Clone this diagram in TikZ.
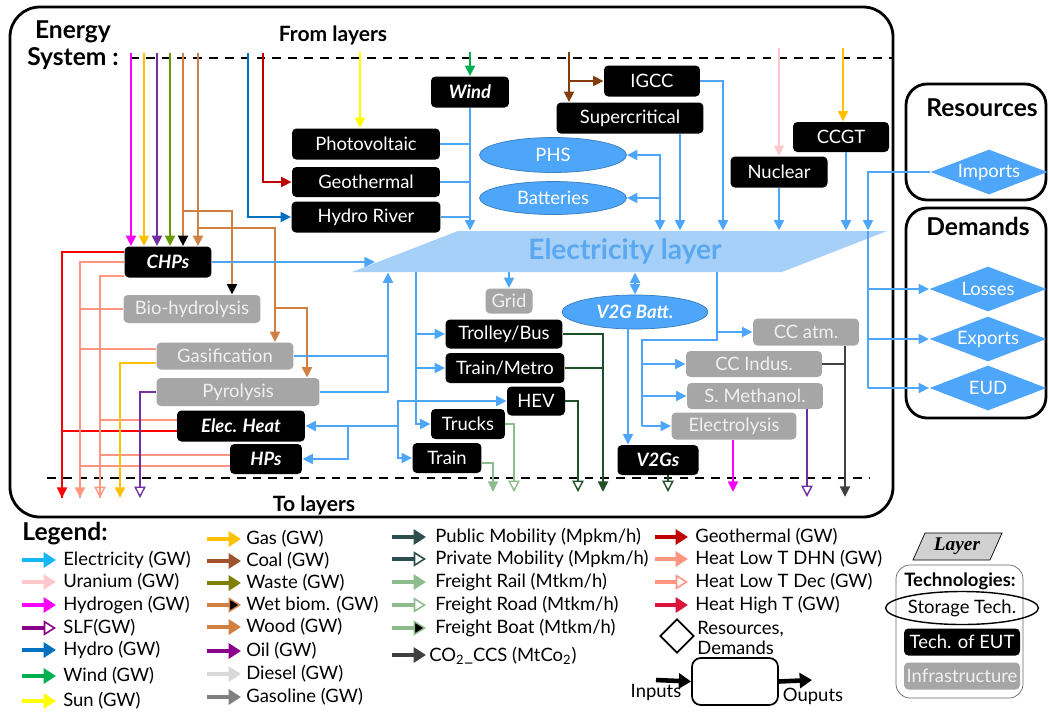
\documentclass[tikz,border=0pt]{standalone}
\usepackage{fontspec}
\setmainfont{Lato}
\newfontfamily\layerfont{Liberation Serif}
\usetikzlibrary{arrows.meta,shapes.geometric,calc}

\definecolor{elecblue}{RGB}{77,166,250}
\definecolor{layerblue}{RGB}{166,208,248}
\definecolor{layertext}{RGB}{90,168,240}
\definecolor{infragray}{RGB}{166,166,166}
\definecolor{legcyan}{RGB}{20,184,245}
\definecolor{uranium}{RGB}{255,200,205}
\definecolor{hydrogen}{RGB}{255,0,255}
\definecolor{slf}{RGB}{112,48,160}
\definecolor{hydro}{RGB}{0,112,192}
\definecolor{windg}{RGB}{0,176,80}
\definecolor{sun}{RGB}{255,255,0}
\definecolor{gas}{RGB}{255,192,0}
\definecolor{coal}{RGB}{132,60,12}
\definecolor{legcoal}{RGB}{160,82,45}
\definecolor{waste}{RGB}{128,128,0}
\definecolor{wastedia}{RGB}{105,155,0}
\definecolor{wood}{RGB}{209,128,66}
\definecolor{oil}{RGB}{139,0,139}
\definecolor{diesel}{RGB}{217,217,217}
\definecolor{gasoline}{RGB}{128,128,128}
\definecolor{pubmob}{RGB}{30,81,40}
\definecolor{legmob}{RGB}{47,79,79}
\definecolor{freight}{RGB}{143,188,143}
\definecolor{co2}{RGB}{64,64,64}
\definecolor{geoth}{RGB}{192,0,0}
\definecolor{heatlow}{RGB}{255,150,130}
\definecolor{heathigh}{RGB}{255,0,0}
\definecolor{legheathigh}{RGB}{220,20,60}

\newcommand\boxfont{\fontsize{10.5}{12}\selectfont}

\tikzset{
  eut/.style={fill=black, text=white, rounded corners=2.5pt, inner sep=0pt, font=\boxfont},
  eutb/.style={eut, font=\boxfont\bfseries\itshape},
  infra/.style={fill=infragray, text=white!94!black, rounded corners=2.5pt, inner sep=0pt, font=\boxfont},
  stor/.style={ellipse, fill=elecblue, draw=elecblue!75!black, thin, text=white, inner sep=0pt, font=\boxfont},
  resdem/.style={diamond, fill=elecblue, text=white, inner sep=0pt, shape aspect=2.6,
    minimum width=2.34cm, minimum height=0.9cm, font=\boxfont},
  flow/.style={line width=1.6pt, -{Triangle[length=6pt,width=5.5pt]}},
  hflow/.style={line width=1.6pt, -{Triangle[open,line width=0.8pt,length=6.5pt,width=6.5pt]}},
  wetflow/.style={line width=1.6pt, wood, -{Triangle[length=6pt,width=5.5pt,color=black]}},
  pline/.style={line width=1.6pt},
  eflow/.style={flow, elecblue},
  eline/.style={pline, elecblue},
  twoway/.style={{Triangle[length=6pt,width=5.5pt]}-{Triangle[length=6pt,width=5.5pt]}},
  legf/.style={line width=2.6pt, -{Triangle[length=7pt,width=8.5pt]}},
  lego/.style={line width=2.6pt, -{Triangle[open,line width=0.9pt,length=7pt,width=8.5pt]}},
  legk/.style={line width=2.6pt, -{Triangle[line width=0.8pt,length=7pt,width=8.5pt,fill=black]}},
  legtext/.style={anchor=west, inner sep=0pt, font=\boxfont},
  head/.style={font=\fontsize{14}{15.5}\selectfont\bfseries, inner sep=0pt}
}

\begin{document}
\begin{tikzpicture}[x=0.02cm, y=-0.02cm]
\useasboundingbox (0,0) rectangle (1048,711);

% frames
\draw[line width=1.6pt, rounded corners=17pt] (10,7) rectangle (893,517);
\draw[line width=1.6pt, rounded corners=12pt] (906,84) rectangle (1046,200);
\draw[line width=1.6pt, rounded corners=12pt] (906,208) rectangle (1046,418);
\draw[line width=0.8pt, dash pattern=on 5pt off 4pt] (130,58) -- (893,58);
\draw[line width=0.8pt, dash pattern=on 5pt off 4pt] (47,478) -- (870,478);

\node[head, align=center] (title) at (73,45) {Energy\\System :};
\node[head, font=\fontsize{12}{14}\selectfont\bfseries] (fromlay) at (333,35) {From layers};
\node[head, font=\fontsize{12}{14}\selectfont\bfseries] (tolay) at (314,505) {To layers};
\node[head] (reslab) at (982,108) {Resources};
\node[head] (demlab) at (978,226) {Demands};

% electricity layer
\fill[layerblue] (458,231) -- (887,231) -- (782,272) -- (352,272) -- cycle;
\node[font=\fontsize{16}{18}\selectfont\bfseries, text=layertext, inner sep=0pt,
  minimum width=8.6cm, minimum height=0.82cm] (elec) at (625,251.5) {Electricity layer};
\coordinate (chpin) at (375,262);

% technologies
\node[eutb, minimum width=1.56cm, minimum height=0.62cm] (wind) at (470,92) {Wind};
\node[eut, minimum width=2.96cm, minimum height=0.62cm] (pv) at (366,144) {Photovoltaic};
\node[eut, minimum width=2.96cm, minimum height=0.6cm] (geo) at (366,182) {Geothermal};
\node[eut, minimum width=2.98cm, minimum height=0.62cm] (hydroriv) at (366,217) {Hydro River};
\node[eut, minimum width=1.92cm, minimum height=0.62cm] (igcc) at (652,81) {IGCC};
\node[eut, minimum width=2.94cm, minimum height=0.62cm] (supcrit) at (630,118) {Supercritical};
\node[stor, minimum width=2.94cm, minimum height=0.7cm] (phs) at (553,155) {PHS};
\node[stor, minimum width=2.94cm, minimum height=0.66cm] (batt) at (553,198) {Batteries};
\node[eut, minimum width=1.94cm, minimum height=0.62cm] (nuclear) at (779,172) {Nuclear};
\node[eut, minimum width=1.92cm, minimum height=0.6cm] (ccgt) at (841,137) {CCGT};
\node[eutb, minimum width=1.74cm, minimum height=0.62cm] (chp) at (168,262) {CHPs};
\node[infra, minimum width=2.74cm, minimum height=0.56cm] (biohyd) at (192,309) {Bio-hydrolysis};
\node[infra, minimum width=2.74cm, minimum height=0.54cm] (gasif) at (225,356) {Gasification};
\node[infra, minimum width=3.26cm, minimum height=0.56cm] (pyro) at (238,392) {Pyrolysis};
\node[eutb, minimum width=2.56cm, minimum height=0.62cm] (eheat) at (241,426) {Elec. Heat};
\node[eutb, minimum width=1.44cm, minimum height=0.6cm] (hps) at (266,459) {HPs};
\node[infra, minimum width=0.94cm, minimum height=0.5cm] (grid) at (509,301) {Grid};
\node[stor, font=\boxfont\bfseries\itshape, minimum width=2.92cm, minimum height=0.68cm] (v2gbatt) at (635,312) {V2G Batt.};
\node[eut, minimum width=2.34cm, minimum height=0.58cm] (trolley) at (504,334) {Trolley/Bus};
\node[eut, minimum width=2.38cm, minimum height=0.6cm] (trainmetro) at (505,368) {Train/Metro};
\node[eut, minimum width=1.16cm, minimum height=0.58cm] (hev) at (536,401) {HEV};
\node[eut, minimum width=1.48cm, minimum height=0.6cm] (trucks) at (468,424) {Trucks};
\node[eut, minimum width=1.38cm, minimum height=0.6cm] (train) at (447,458) {Train};
\node[eutb, minimum width=1.62cm, minimum height=0.6cm] (v2gs) at (658,460) {V2Gs};
\node[infra, minimum width=2.12cm, minimum height=0.54cm] (ccatm) at (806,332) {CC atm.};
\node[infra, minimum width=2.72cm, minimum height=0.52cm] (ccind) at (754,364) {CC Indus.};
\node[infra, minimum width=2.72cm, minimum height=0.52cm] (smeth) at (755,396) {S. Methanol.};
\node[infra, minimum width=2.5cm, minimum height=0.54cm] (electro) at (734,426) {Electrolysis};

\node[resdem] (imports) at (989,172) {Imports};
\node[resdem] (losses) at (988,289) {Losses};
\node[resdem] (exports) at (988,339) {Exports};
\node[resdem] (eud) at (988,388) {EUD};

% inputs from layers
\foreach \x/\c in {131/hydrogen, 144/gas, 157/slf, 170/wastedia}
  \draw[flow, \c] (\x,53) -- (\x,0 |- chp.north);
\draw[wetflow] (183,53) -- (183,0 |- chp.north);
\draw[wetflow] (183,211) -| (232,0 |- biohyd.north);
\draw[flow, wood] (198,53) -- (198,0 |- chp.north);
\draw[flow, wood] (198,228) -| (275,0 |- gasif.north);
\draw[flow, wood] (275,308) -| (307,0 |- pyro.north);
\draw[flow, sun] (360,52) -- (360,0 |- pv.north);
\draw[flow, hydro] (248,53) |- (hydroriv.west);
\draw[flow, geoth] (263,53) |- (geo.west);
\draw[flow, windg] (470,52) -- (wind.north);
\draw[flow, coal] (569,52) -- (569,0 |- supcrit.north);
\draw[flow, coal] (569,81) -- (igcc.west);
\draw[flow, uranium] (779,48) -- (nuclear.north);
\draw[flow, gas] (843,48) -- (843,0 |- ccgt.north);

% electricity into the layer
\draw[eflow] (wind.south) -- (wind.south |- elec.north);
\foreach \n in {pv, geo, hydroriv}
  \draw[eline] (\n.east) -- (\n.east -| wind.south);
\draw[eflow] (680,0 |- supcrit.south) -- (680,0 |- elec.north);
\draw[eflow] (igcc.east) -| (723,0 |- elec.north);
\draw[eflow] (nuclear.south) -- (nuclear.south |- elec.north);
\draw[eflow] (846,0 |- ccgt.south) -- (846,0 |- elec.north);
\draw[eline, twoway] (660,0 |- elec.north) |- (phs.east);
\draw[eflow] (660,0 |- batt.east) -- (batt.east);
\draw[eflow] (imports.west) -| (868,0 |- elec.north);
\draw[eline] (868,0 |- elec.north) -- (868,0 |- eud.west);
\foreach \n in {losses, exports, eud}
  \draw[eflow] (868,0 |- \n.west) -- (\n.west);
\draw[eflow] (chp.east) -- (chpin);
\draw[eline] (gasif.east) -- (388,0 |- gasif.east);
\draw[eflow] (pyro.east) -| (388,0 |- elec.south);

% electricity out of the layer
\draw[eflow] (416,0 |- elec.south) |- (trucks.west);
\foreach \n in {trolley, trainmetro, hev}
  \draw[eflow] (416,0 |- \n.west) -- (\n.west);
\draw[eflow] (416,0 |- hev.west) -| (398,0 |- eheat.east) |- (train.west);
\draw[eflow] (398,0 |- eheat.east) -- (eheat.east);
\draw[eflow] (348,0 |- eheat.east) |- (hps.east);
\draw[eflow] (grid.north |- elec.south) -- (grid.north);
\draw[eline, twoway] (635,0 |- elec.south) -- (v2gbatt.north);
\draw[eflow] (628,0 |- v2gbatt.south) -- (628,0 |- v2gs.north);
\draw[eline] (717,0 |- elec.south) -- (717,340) -| (642,0 |- electro.west);
\draw[eflow] (717,0 |- ccatm.west) -- (ccatm.west);
\foreach \n in {ccind, smeth, electro}
  \draw[eflow] (642,0 |- \n.west) -- (\n.west);

% outputs to layers
\coordinate (oHH) at (62,498);
\coordinate (oDHN) at (80,498);
\coordinate (oDec) at (100,498);
\coordinate (oGas) at (120,498);
\coordinate (oSLF) at (140,498);
\draw[flow, heathigh] ($(chp.west)+(0,-10)$) -| (oHH);
\draw[pline, heathigh] ($(eheat.west)+(0,5)$) -| (oHH);
\draw[flow, heatlow] (chp.west) -| (oDHN);
\draw[pline, heatlow] (biohyd.west) -| (oDHN);
\draw[pline, heatlow] ($(gasif.west)+(0,-7)$) -| (oDHN);
\draw[pline, heatlow] ($(hps.west)+(0,7)$) -| (oDHN);
\draw[hflow, heatlow] ($(chp.west)+(0,14)$) -| (oDec);
\draw[pline, heatlow] ($(eheat.west)+(0,-6)$) -| (oDec);
\draw[pline, heatlow] ($(hps.west)+(0,-4)$) -| (oDec);
\draw[flow, gas] ($(gasif.west)+(0,7)$) -| (oGas);
\draw[hflow, slf] (pyro.west) -| (oSLF);

\draw[flow, pubmob] (trolley.east) -| (603,492);
\draw[pline, pubmob] (trainmetro.east) -- (603,0 |- trainmetro.east);
\draw[hflow, pubmob] (hev.east) -| (578,492);
\draw[hflow, freight] (trucks.east) -| (514,492);
\draw[flow, freight] ($(train.east)+(0,5)$) -| (493,492);
\draw[hflow, pubmob] (668,0 |- v2gs.south) -- (668,492);
\draw[flow, hydrogen] (733,0 |- electro.south) -- (733,492);
\draw[hflow, slf] (807,0 |- smeth.south) -- (807,497);
\draw[flow, co2] (845,0 |- ccatm.south) -- (845,497);
\draw[pline, co2] (ccind.east) -- (845,0 |- ccind.east);

% legend
\node[head, anchor=west] (legend) at (22,534) {Legend:};
\foreach \y/\k/\c/\t [count=\i] in {560/legf/legcyan/Electricity (GW), 582/legf/uranium/Uranium (GW),
    605/legf/hydrogen/Hydrogen (GW), 628/lego/oil/SLF(GW), 650/legf/hydro/Hydro (GW),
    676/legf/windg/Wind (GW), 701/legf/sun/Sun (GW)} {
  \draw[\k, \c] (22,\y) -- (56,\y);
  \node[legtext] (lega\i) at (63,\y) {\t};
}
\foreach \y/\k/\c/\t [count=\i] in {539/legf/gas/Gas (GW), 561/legf/legcoal/Coal (GW),
    583/legf/waste/Waste (GW), 605/legk/wood/Wet biom. (GW), 627/legf/wood/Wood (GW),
    651/legf/oil/Oil (GW), 674/legf/diesel/Diesel (GW), 697/legf/gasoline/Gasoline (GW)} {
  \draw[\k, \c] (207,\y) -- (241,\y);
  \node[legtext] (legb\i) at (246,\y) {\t};
}
\foreach \y/\k/\c/\t [count=\i] in {537/legf/legmob/{Public Mobility (Mpkm/h)},
    559/lego/legmob/{Private Mobility (Mpkm/h)}, 582/legf/freight/{Freight Rail (Mtkm/h)},
    605/lego/freight/{Freight Road (Mtkm/h)}, 628/legk/freight/{Freight Boat (Mtkm/h)}} {
  \draw[\k, \c] (392,\y) -- (426,\y);
  \node[legtext] (legc\i) at (435,\y) {\t};
}
\draw[legf, co2] (392,655) -- (426,655);
\node[legtext] (legco2) at (429,656) {CO\textsubscript{2}\_CCS (MtCo\textsubscript{2})};
\foreach \y/\k/\c/\t [count=\i] in {537/legf/geoth/Geothermal (GW), 559/legf/heatlow/Heat Low T DHN (GW),
    582/lego/heatlow/Heat Low T Dec (GW), 605/legf/legheathigh/Heat High T (GW)} {
  \draw[\k, \c] (655,\y) -- (688,\y);
  \node[legtext] (legd\i) at (695,\y) {\t};
}
\node[diamond, draw, line width=1pt, minimum size=0.68cm, inner sep=0pt] (rdleg) at (677,636) {};
\node[legtext, align=left, font=\fontsize{10.5}{11.5}\selectfont] (rdlab) at (697,638) {Resources,\\Demands};
\node[draw, line width=1pt, rounded corners=5pt, minimum width=1.72cm, minimum height=0.94cm] (techbox) at (735,681.5) {};
\draw[legf] (656,680) -- (techbox.west);
\draw[legf] (techbox.east) -- (812,680);
\node[font=\boxfont, inner sep=0pt] (inlab) at (656,692) {Inputs};
\node[font=\boxfont, inner sep=0pt] (outlab) at (813,696) {Ouputs};

\draw[fill=black!18, thin] (925,533) -- (1002,533) -- (990,560) -- (913,560) -- cycle;
\node[inner sep=0pt, font=\layerfont\bfseries\itshape\fontsize{11}{13}\selectfont] (layerleg) at (957,546) {Layer};
\draw[thin, black!60, rounded corners=8pt] (896,565) rectangle (1023,698);
\node[inner sep=0pt, font=\boxfont\bfseries] (techlab) at (960,581) {Technologies:};
\node[ellipse, draw, thick, inner sep=0pt, minimum width=2.36cm, minimum height=0.66cm, font=\boxfont] (storleg) at (962,608) {Storage Tech.};
\node[eut, minimum width=2.32cm, minimum height=0.54cm] (eutleg) at (962,642) {Tech. of EUT};
\node[infra, minimum width=2.32cm, minimum height=0.54cm] (infraleg) at (962,676) {Infrastructure};
\end{tikzpicture}
\end{document}
